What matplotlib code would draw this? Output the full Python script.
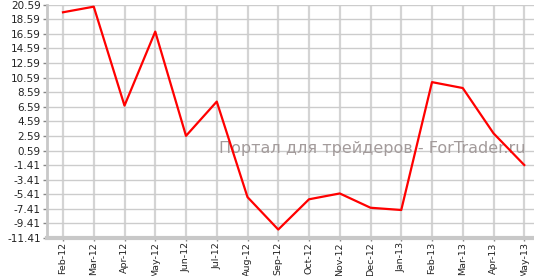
import matplotlib
matplotlib.use("Agg")
import matplotlib.pyplot as plt
import numpy as np

months = ["Feb-12", "Mar-12", "Apr-12", "May-12", "Jun-12", "Jul-12", "Aug-12", "Sep-12",
          "Oct-12", "Nov-12", "Dec-12", "Jan-13", "Feb-13", "Mar-13", "Apr-13", "May-13"]
values = [19.55, 20.32, 6.75, 16.9, 2.6, 7.3, -5.8, -10.25,
          -6.1, -5.3, -7.26, -7.57, 9.97, 9.16, 2.95, -1.4]
ytick_values = [20.59 - 2 * i for i in range(17)]
watermark = "Портал для трейдеров - ForTrader.ru"

W, H = 534, 276
fig = plt.figure(figsize=(W / 100, H / 100), dpi=100)
left, right, top, bottom = 47, 534, 4.7, 238
ax = fig.add_axes([left / W, (H - bottom) / H, (right - left) / W, (bottom - top) / H])
ax.set_axisbelow(True)

x = np.arange(len(months))
step = 30.75
ax.set_xlim(-(63 - left) / step, (right - 63) / step)
ax.set_ylim(-11.41, 20.59)

ax.set_yticks(ytick_values)
ax.set_yticklabels([f"{v:.2f}" for v in ytick_values])
ax.set_xticks(x)
ax.set_xticklabels(months, rotation=90)

ax.grid(True, axis="y", color="#cccccc", linewidth=1.0)
ax.grid(True, axis="x", color="#d4d4d4", linewidth=1.6)

for s in ["top", "right"]:
    ax.spines[s].set_visible(False)
ax.spines["left"].set_color("#c8c8c8")
ax.spines["left"].set_linewidth(2.0)
ax.spines["bottom"].set_color("#c8c8c8")
ax.spines["bottom"].set_linewidth(3.0)

ax.tick_params(axis="y", colors="#888888", labelcolor="#222222", labelsize=7.5,
               length=3, width=1, pad=1.5)
ax.tick_params(axis="x", colors="#888888", labelcolor="#222222", labelsize=6.8,
               length=2, width=1, pad=1.0)

ax.text(372.5 / W, 1 - 148.5 / H, watermark, transform=fig.transFigure,
        fontsize=11.5, color="#a39b9b", ha="center", va="center", zorder=1.5)

ax.plot(x, values, color="#ff0000", linewidth=1.6, zorder=3, clip_on=False)

fig.savefig("out.png", dpi=100)
